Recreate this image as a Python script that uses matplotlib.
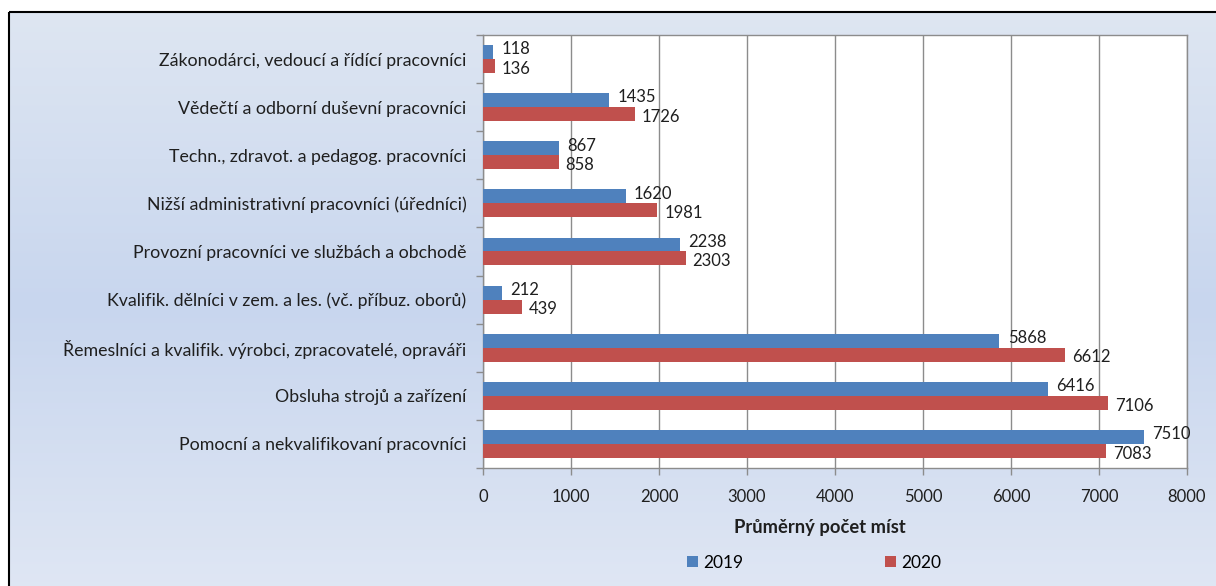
import matplotlib
matplotlib.use("Agg")
import matplotlib.pyplot as plt
import numpy as np
from matplotlib.patches import Rectangle

plt.rcParams['font.family'] = ['Lato', 'DejaVu Sans']

# data (top to bottom as in the chart)
categories = [
    "Zákonodárci, vedoucí a řídící pracovníci",
    "Vědečtí a odborní duševní pracovníci",
    "Techn., zdravot. a pedagog. pracovníci",
    "Nižší administrativní pracovníci (úředníci)",
    "Provozní pracovníci ve službách a obchodě",
    "Kvalifik. dělníci v zem. a les. (vč. příbuz. oborů)",
    "Řemeslníci a kvalifik. výrobci, zpracovatelé, opraváři",
    "Obsluha strojů a zařízení",
    "Pomocní a nekvalifikovaní pracovníci",
]
values_2019 = [118, 1435, 867, 1620, 2238, 212, 5868, 6416, 7510]
values_2020 = [136, 1726, 858, 1981, 2303, 439, 6612, 7106, 7083]
series_names = ["2019", "2020"]
x_ticks = [0, 1000, 2000, 3000, 4000, 5000, 6000, 7000, 8000]

blue = "#4f81bd"
red = "#c0504d"
text_col = "#1f1f1f"
grid_col = "#8c8c8c"

fig = plt.figure(figsize=(12.16, 5.86), dpi=100)

# gradient background with black frame
bg = fig.add_axes([0, 0, 1, 1], zorder=-10)
bg.axis("off")
top = np.array([222, 230, 242]) / 255
mid = np.array([200, 214, 238]) / 255
bot = np.array([224, 231, 244]) / 255
t = np.linspace(0, 1, 200)[:, None]
grad = np.where(t < 0.5, top + (mid - top) * (t / 0.5), mid + (bot - mid) * ((t - 0.5) / 0.5))
bg.imshow(grad[:, None, :], extent=[9, 1230, 600, 12], aspect="auto", zorder=0)
bg.add_patch(Rectangle((9, 12), 1240, 600, fill=False, edgecolor="black", linewidth=1.5, zorder=1))
bg.set_xlim(0, 1216)
bg.set_ylim(586, 0)

ax = fig.add_axes([483 / 1216, 1 - 468 / 586, (1187 - 483) / 1216, (468 - 35) / 586])
ax.set_facecolor("white")

n = len(categories)
y = np.arange(n)
h = 0.29
b1 = ax.barh(y - h / 2, values_2019, height=h, color=blue, label=series_names[0], zorder=3)
b2 = ax.barh(y + h / 2, values_2020, height=h, color=red, label=series_names[1], zorder=3)

for rect, v in zip(b1, values_2019):
    ax.annotate(str(v), (rect.get_width(), rect.get_y() + rect.get_height() / 2),
                xytext=(6, 2), textcoords="offset points", va="center", ha="left",
                fontsize=12, color=text_col)
for rect, v in zip(b2, values_2020):
    ax.annotate(str(v), (rect.get_width(), rect.get_y() + rect.get_height() / 2),
                xytext=(5, -2), textcoords="offset points", va="center", ha="left",
                fontsize=12, color=text_col)

ax.set_ylim(n - 0.5, -0.5)
ax.set_xlim(0, 8000)
ax.set_xticks(x_ticks)
ax.set_xticklabels([str(v) for v in x_ticks], fontsize=12, color=text_col)
ax.set_yticks(y)
ax.set_yticklabels(categories, fontsize=12.8, color=text_col)
ax.set_yticks(np.arange(-0.5, n, 1), minor=True)
ax.tick_params(axis="y", which="major", length=0, pad=12)
ax.tick_params(axis="y", which="minor", length=5, color=grid_col, width=1)
ax.tick_params(axis="x", length=5, color=grid_col, width=1, pad=10)
ax.grid(axis="x", color=grid_col, linewidth=1, zorder=0)
for s in ax.spines.values():
    s.set_color(grid_col)
    s.set_linewidth(1)

fig.text(820 / 1216, 1 - 528 / 586, "Průměrný počet míst", ha="center", va="center",
         fontsize=13.2, fontweight="bold", color=text_col)

fig.legend(handles=[b1, b2], labels=series_names, loc="center",
           bbox_to_anchor=(814 / 1216, 1 - 563 / 586), ncol=2, frameon=False,
           fontsize=12.5, handlelength=0.6, handleheight=0.6, handletextpad=0.3,
           columnspacing=8.2)

fig.savefig("out.png", dpi=100)
